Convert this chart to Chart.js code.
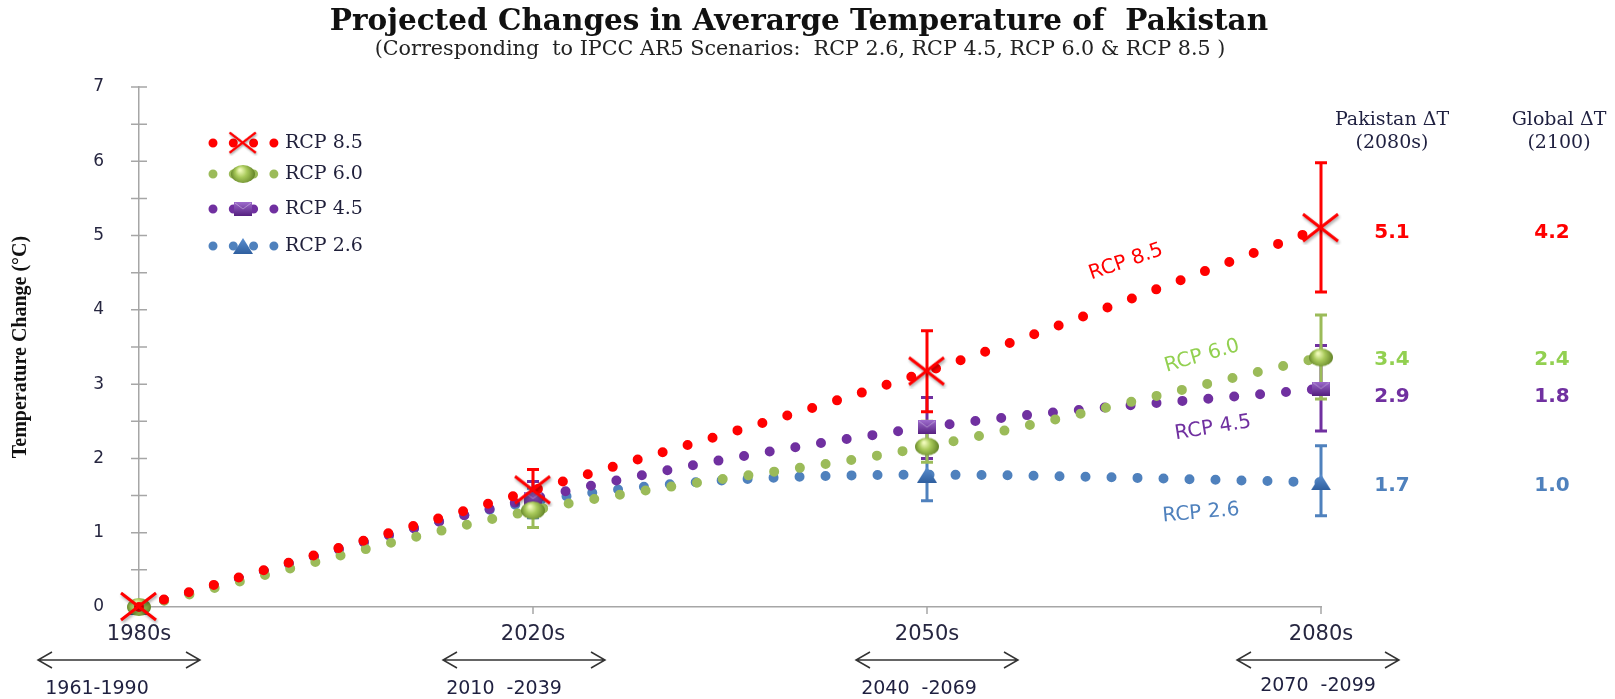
<!DOCTYPE html>
<html>
<head>
<meta charset="utf-8">
<title>Projected Changes in Averarge Temperature of Pakistan</title>
<script src="https://cdn.jsdelivr.net/npm/chart.js@4.4.1/dist/chart.umd.min.js"></script>
<style>
  html, body { margin: 0; padding: 0; background: #fff; }
  #chart-container { position: relative; width: 1615px; height: 699px; }
</style>
</head>
<body>
<div id="chart-container"><canvas id="chart"></canvas></div>
<script>
// data
const periods = ['1980s', '2020s', '2050s', '2080s'];
const periodRanges = ['1961-1990', '2010  -2039', '2040  -2069', '2070  -2099'];
const scenarios = ['RCP 8.5', 'RCP 6.0', 'RCP 4.5', 'RCP 2.6'];

const rcp85 = [0, 1.57, 3.17, 5.1];
const rcp60 = [0, 1.30, 2.16, 3.36];
const rcp45 = [0, 1.46, 2.42, 2.94];
const rcp26 = [0, 1.42, 1.78, 1.68];

// error bar ranges (low / high)
const rcp85Low = [null, 1.35, 2.63, 4.24];
const rcp85High = [null, 1.85, 3.72, 5.98];
const rcp60Low = [null, 1.07, 1.95, 2.80];
const rcp60High = [null, 1.50, 2.50, 3.93];
const rcp45Low = [null, 1.25, 2.00, 2.37];
const rcp45High = [null, 1.69, 2.82, 3.52];
const rcp26Low = [null, 1.20, 1.43, 1.23];
const rcp26High = [null, 1.60, 2.10, 2.17];

const pakistanDeltaT = ['5.1', '3.4', '2.9', '1.7'];
const globalDeltaT = ['4.2', '2.4', '1.8', '1.0'];

const lineColors = ['#ff0000', '#9bbb59', '#7030a0', '#4f81bd'];
const textColors = ['#ff0000', '#92d050', '#7030a0', '#4f81bd'];

// marker images
function makeCross() {
    const c = document.createElement('canvas');
    c.width = 42; c.height = 34;
    const g = c.getContext('2d');
    g.shadowColor = 'rgba(0,0,0,0.35)';
    g.shadowBlur = 3;
    g.shadowOffsetX = 1;
    g.shadowOffsetY = 2;
    g.strokeStyle = '#ff0000';
    g.lineWidth = 3;
    g.beginPath();
    g.moveTo(3, 3); g.lineTo(38, 30);
    g.moveTo(38, 3); g.lineTo(3, 30);
    g.stroke();
    return c;
}

function makeSphere() {
    const c = document.createElement('canvas');
    c.width = 28; c.height = 22;
    const g = c.getContext('2d');
    const grad = g.createRadialGradient(11, 7, 1, 14, 11, 13);
    grad.addColorStop(0, '#eef9b8');
    grad.addColorStop(0.4, '#a8c95a');
    grad.addColorStop(1, '#5a7a22');
    g.fillStyle = grad;
    g.beginPath();
    g.ellipse(14, 11, 12, 9, 0, 0, Math.PI * 2);
    g.fill();
    return c;
}

function makeSquare() {
    const c = document.createElement('canvas');
    c.width = 18; c.height = 14;
    const g = c.getContext('2d');
    const grad = g.createLinearGradient(0, 0, 0, 14);
    grad.addColorStop(0, '#9d6bcc');
    grad.addColorStop(1, '#55207f');
    g.fillStyle = grad;
    g.fillRect(0, 0, 18, 14);
    g.strokeStyle = 'rgba(255,255,255,0.35)';
    g.lineWidth = 1;
    g.beginPath();
    g.moveTo(1, 1); g.lineTo(9, 7); g.lineTo(17, 1);
    g.stroke();
    return c;
}

function makeTriangle() {
    const c = document.createElement('canvas');
    c.width = 20; c.height = 16;
    const g = c.getContext('2d');
    const grad = g.createLinearGradient(0, 0, 0, 16);
    grad.addColorStop(0, '#5b8fd0');
    grad.addColorStop(1, '#2f5f9f');
    g.fillStyle = grad;
    g.beginPath();
    g.moveTo(10, 0); g.lineTo(20, 16); g.lineTo(0, 16);
    g.closePath();
    g.fill();
    return c;
}

const markers = [makeCross(), makeSphere(), makeSquare(), makeTriangle()];
const seriesValues = [rcp85, rcp60, rcp45, rcp26];
const seriesLow = [rcp85Low, rcp60Low, rcp45Low, rcp26Low];
const seriesHigh = [rcp85High, rcp60High, rcp45High, rcp26High];

function text(ctx, str, x, y, font, color, align, angle) {
    ctx.save();
    ctx.translate(x, y);
    if (angle) ctx.rotate(angle * Math.PI / 180);
    ctx.font = font;
    ctx.fillStyle = color;
    ctx.textAlign = align || 'center';
    ctx.textBaseline = 'middle';
    ctx.fillText(str, 0, 0);
    ctx.restore();
}

const decorations = {
    id: 'decorations',
    beforeDatasetsDraw(chart) {
        const ctx = chart.ctx;
        const xs = chart.scales.x;
        const ys = chart.scales.y;
        ctx.save();
        ctx.lineWidth = 3;
        // error bars, drawn under the markers
        for (let s = seriesValues.length - 1; s >= 0; s--) {
            ctx.strokeStyle = lineColors[s];
            seriesLow[s].forEach((low, i) => {
                if (low === null) return;
                const x = xs.getPixelForValue(i);
                const y1 = ys.getPixelForValue(low);
                const y2 = ys.getPixelForValue(seriesHigh[s][i]);
                ctx.beginPath();
                ctx.moveTo(x, y1); ctx.lineTo(x, y2);
                ctx.moveTo(x - 6, y1); ctx.lineTo(x + 6, y1);
                ctx.moveTo(x - 6, y2); ctx.lineTo(x + 6, y2);
                ctx.stroke();
            });
        }
        ctx.restore();
    },
    afterDraw(chart) {
        const ctx = chart.ctx;
        const xs = chart.scales.x;
        const ys = chart.scales.y;
        const area = chart.chartArea;

        // axis tick marks
        ctx.save();
        ctx.strokeStyle = '#a6a6a6';
        ctx.lineWidth = 1.5;
        ctx.beginPath();
        ys.ticks.forEach(t => {
            const y = ys.getPixelForValue(t.value);
            if (t.value === 0) return;
            ctx.moveTo(area.left - 8, y); ctx.lineTo(area.left + 8, y);
        });
        xs.ticks.forEach(t => {
            if (t.value === 0) return;
            const x = xs.getPixelForValue(t.value);
            ctx.moveTo(x, area.bottom); ctx.lineTo(x, area.bottom + 7);
        });
        ctx.stroke();
        ctx.restore();

        // titles
        ctx.save();
        ctx.textAlign = 'center';
        ctx.textBaseline = 'alphabetic';
        ctx.fillStyle = '#111';
        ctx.font = 'bold 29.5px "DejaVu Serif"';
        ctx.fillText('Projected Changes in Averarge Temperature of  Pakistan', 799, 30);
        ctx.fillStyle = '#222';
        ctx.font = '20.7px "DejaVu Serif"';
        ctx.fillText('(Corresponding  to IPCC AR5 Scenarios:  RCP 2.6, RCP 4.5, RCP 6.0 & RCP 8.5 )', 800, 55);
        ctx.restore();

        // legend
        const legendRows = [143, 174, 209, 246];
        scenarios.forEach((name, s) => {
            const y = legendRows[s];
            ctx.save();
            ctx.strokeStyle = lineColors[s];
            ctx.lineWidth = 9;
            ctx.lineCap = 'round';
            ctx.setLineDash([0, 20.3]);
            ctx.beginPath();
            ctx.moveTo(213, y); ctx.lineTo(275, y);
            ctx.stroke();
            ctx.restore();
            const m = markers[s];
            const k = s === 0 ? 0.75 : 1;
            ctx.drawImage(m, 243 - m.width * k / 2, y - m.height * k / 2, m.width * k, m.height * k);
            text(ctx, name, 285, y, '19px "DejaVu Serif"', '#1f1f3a', 'left');
        });

        // labels along the curves
        text(ctx, 'RCP 8.5', 1126, 262, '20px "DejaVu Sans"', textColors[0], 'center', -19);
        text(ctx, 'RCP 6.0', 1202, 356, '20px "DejaVu Sans"', textColors[1], 'center', -16);
        text(ctx, 'RCP 4.5', 1213, 428, '20px "DejaVu Sans"', textColors[2], 'center', -9);
        text(ctx, 'RCP 2.6', 1201, 513, '20px "DejaVu Sans"', textColors[3], 'center', -5);

        // right hand columns
        const colPak = 1392;
        const colGlobal = 1552;
        text(ctx, 'Pakistan \u0394T', colPak, 120, '19px "DejaVu Serif"', '#1f2040');
        text(ctx, '(2080s)', colPak, 143, '19px "DejaVu Serif"', '#1f2040');
        text(ctx, 'Global \u0394T', colGlobal + 7, 120, '19px "DejaVu Serif"', '#1f2040');
        text(ctx, '(2100)', colGlobal + 7, 143, '19px "DejaVu Serif"', '#1f2040');
        pakistanDeltaT.forEach((v, s) => {
            const y = ys.getPixelForValue(parseFloat(v)) + 5;
            text(ctx, v, colPak, y, 'bold 20px "DejaVu Sans"', textColors[s]);
            text(ctx, globalDeltaT[s], colGlobal, y, 'bold 20px "DejaVu Sans"', textColors[s]);
        });

        // period arrows under the axis
        const arrowLeft = [-101, -90, -71, -84];
        const labelShift = [-42, -29, -8, -3];
        ctx.save();
        ctx.strokeStyle = '#333';
        ctx.lineWidth = 1.5;
        periodRanges.forEach((range, i) => {
            const cx = xs.getPixelForValue(i);
            const x1 = cx + arrowLeft[i];
            const x2 = x1 + 162;
            const y = 660;
            ctx.beginPath();
            ctx.moveTo(x1, y); ctx.lineTo(x2, y);
            ctx.moveTo(x1 + 14, y - 8); ctx.lineTo(x1, y); ctx.lineTo(x1 + 14, y + 8);
            ctx.moveTo(x2 - 14, y - 8); ctx.lineTo(x2, y); ctx.lineTo(x2 - 14, y + 8);
            ctx.stroke();
            text(ctx, range, cx + labelShift[i], i === 3 ? 686 : 689, '19px "DejaVu Sans"', '#1f2040');
        });
        ctx.restore();
    }
};

const datasets = scenarios.map((name, s) => ({
    label: name,
    data: seriesValues[s].map((v, i) => ({ x: i, y: v })),
    borderColor: lineColors[s],
    backgroundColor: lineColors[s],
    borderWidth: 10,
    borderDash: [0, 26],
    borderCapStyle: 'round',
    cubicInterpolationMode: 'monotone',
    pointStyle: markers[s],
    pointRadius: 10,
    pointHoverRadius: 10,
    fill: false,
    clip: false
}));

new Chart(document.getElementById('chart'), {
    type: 'line',
    data: { datasets },
    options: {
        responsive: true,
        maintainAspectRatio: false,
        animation: false,
        events: [],
        layout: { padding: { top: 87, right: 294, left: 0, bottom: 0 } },
        plugins: {
            legend: { display: false },
            tooltip: { enabled: false },
            title: { display: false }
        },
        scales: {
            x: {
                type: 'linear',
                min: 0,
                max: 3,
                grid: { display: false },
                border: { display: true, color: '#a6a6a6', width: 1.5 },
                ticks: {
                    stepSize: 1,
                    padding: 7,
                    color: '#262640',
                    font: { family: 'DejaVu Sans', size: 21 },
                    callback: v => periods[v]
                },
                afterFit: s => { s.height = 92; }
            },
            y: {
                min: 0,
                max: 7,
                grid: { display: false },
                border: { display: true, color: '#a6a6a6', width: 1.5 },
                ticks: {
                    stepSize: 0.5,
                    padding: 27,
                    color: '#262640',
                    font: { family: 'DejaVu Sans', size: 17 },
                    callback: v => Number.isInteger(v) ? v : ''
                },
                title: {
                    display: true,
                    text: 'Temperature Change (\u00B0C)',
                    color: '#111',
                    font: { family: 'Liberation Serif', size: 20, weight: 'bold' },
                    padding: { top: 9, bottom: 0 }
                },
                afterFit: s => { s.width = 139; }
            }
        }
    },
    plugins: [decorations]
});
</script>
</body>
</html>
